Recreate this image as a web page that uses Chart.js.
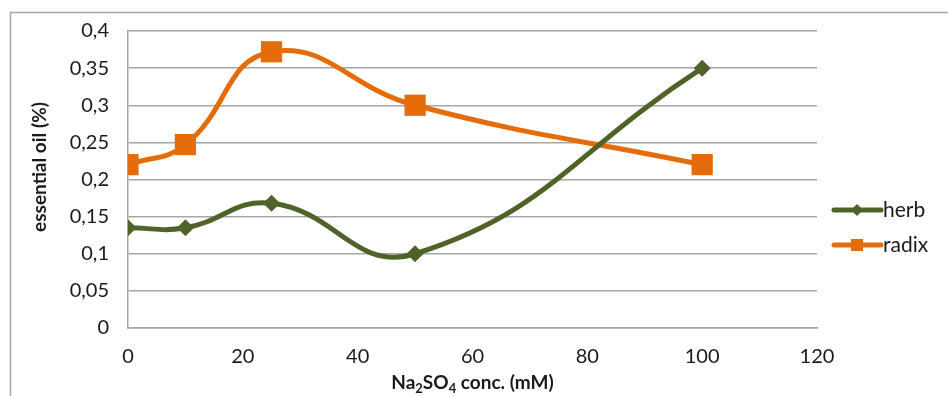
<!DOCTYPE html>
<html>
<head>
<meta charset="utf-8">
<script src="https://cdn.jsdelivr.net/npm/chart.js@4"></script>
<style>
  html, body { margin: 0; padding: 0; background: #fff; }
  #wrap { width: 948px; height: 396px; }
</style>
</head>
<body>
<div id="wrap"><canvas id="oilChart"></canvas></div>
<script>
// concentraciones y contenido de aceite esencial
const concentrations = [0, 10, 25, 50, 100];
const herbOil = [0.135, 0.135, 0.168, 0.1, 0.35];
const radixOil = [0.22, 0.247, 0.372, 0.3, 0.22];
const seriesNames = ["herb", "radix"];
const seriesColors = ["#4f6228", "#e46c0a"];
const seriesMarkers = ["rectRot", "rect"];
const yTitle = "essential oil (%)";
// título del eje x en trozos: [texto, es subíndice]
const xTitleParts = [["Na", false], ["2", true], ["SO", false], ["4", true], [" conc. (mM)", false]];

const FONT = "Lato, 'Open Sans', sans-serif";
const TEXT = "#1a1a1a";

const toPoints = (vals) => concentrations.map((x, i) => ({ x, y: vals[i] }));

// marco exterior
const framePlugin = {
  id: "frame",
  beforeDraw(chart) {
    const ctx = chart.ctx;
    ctx.save();
    ctx.strokeStyle = "#a6a6a6";
    ctx.lineWidth = 1.5;
    ctx.strokeRect(10.5, 12.5, chart.width, chart.height);
    ctx.restore();
  },
};

// títulos de los ejes (x con subíndices)
const axisTitles = {
  id: "axisTitles",
  afterDraw(chart) {
    const ctx = chart.ctx;
    const area = chart.chartArea;
    const big = "bold 19px " + FONT;
    const small = "bold 13px " + FONT;
    ctx.save();
    ctx.fillStyle = TEXT;
    ctx.textBaseline = "alphabetic";
    ctx.textAlign = "left";
    let total = 0;
    xTitleParts.forEach(([t, sub]) => {
      ctx.font = sub ? small : big;
      total += ctx.measureText(t).width;
    });
    let x = (area.left + area.right) / 2 - total / 2;
    const base = 389;
    xTitleParts.forEach(([t, sub]) => {
      ctx.font = sub ? small : big;
      ctx.fillText(t, x, sub ? base + 4 : base);
      x += ctx.measureText(t).width;
    });

    ctx.translate(40, 167);
    ctx.rotate(-Math.PI / 2);
    ctx.font = big;
    ctx.textAlign = "center";
    ctx.textBaseline = "middle";
    ctx.fillText(yTitle, 0, 0);
    ctx.restore();
  },
};

// leyenda a la derecha: línea con marcador + nombre
const sideLegend = {
  id: "sideLegend",
  afterDraw(chart) {
    const ctx = chart.ctx;
    ctx.save();
    chart.data.datasets.forEach((ds, i) => {
      const y = 210 + i * 35;
      ctx.strokeStyle = ds.borderColor;
      ctx.lineWidth = 5;
      ctx.lineCap = "round";
      ctx.beginPath();
      ctx.moveTo(834, y);
      ctx.lineTo(881, y);
      ctx.stroke();
      ctx.fillStyle = ds.borderColor;
      ctx.beginPath();
      if (ds.pointStyle === "rectRot") {
        ctx.moveTo(857 - 6, y);
        ctx.lineTo(857, y - 6);
        ctx.lineTo(857 + 6, y);
        ctx.lineTo(857, y + 6);
      } else {
        ctx.rect(851, y - 6, 12, 12);
      }
      ctx.fill();
      ctx.fillStyle = TEXT;
      ctx.font = "21px " + FONT;
      ctx.textBaseline = "middle";
      ctx.textAlign = "left";
      ctx.fillText(ds.label, 883, y);
    });
    ctx.restore();
  },
};

new Chart(document.getElementById("oilChart"), {
  type: "line",
  data: {
    datasets: [herbOil, radixOil].map((vals, i) => ({
      label: seriesNames[i],
      data: toPoints(vals),
      borderColor: seriesColors[i],
      backgroundColor: seriesColors[i],
      borderWidth: 5,
      tension: 0.45,
      pointStyle: seriesMarkers[i],
      pointRadius: i === 0 ? 8.5 : 15,
      pointBorderWidth: 0,
      pointHoverRadius: i === 0 ? 8.5 : 15,
    })),
  },
  options: {
    responsive: true,
    maintainAspectRatio: false,
    animation: false,
    events: [],
    layout: { padding: { top: 21, right: 131, left: 0, bottom: 0 } },
    plugins: {
      legend: { display: false },
      tooltip: { enabled: false },
    },
    scales: {
      x: {
        type: "linear",
        min: 0,
        max: 120,
        ticks: {
          stepSize: 20,
          padding: 17,
          color: TEXT,
          font: { family: FONT, size: 20 },
        },
        grid: { display: false, drawTicks: false },
        border: { color: "#a6a6a6", width: 1.5 },
        afterFit(scale) { scale.height = 68; },
      },
      y: {
        min: 0,
        max: 0.4,
        ticks: {
          stepSize: 0.05,
          padding: 19,
          color: TEXT,
          font: { family: FONT, size: 20 },
          callback: (v) => String(+v.toFixed(2)).replace(".", ","),
        },
        grid: { color: "#a6a6a6", lineWidth: 1.5, drawTicks: false },
        border: { color: "#a6a6a6", width: 1.5 },
        afterFit(scale) { scale.width = 128; },
      },
    },
  },
  plugins: [framePlugin, axisTitles, sideLegend],
});
</script>
</body>
</html>
